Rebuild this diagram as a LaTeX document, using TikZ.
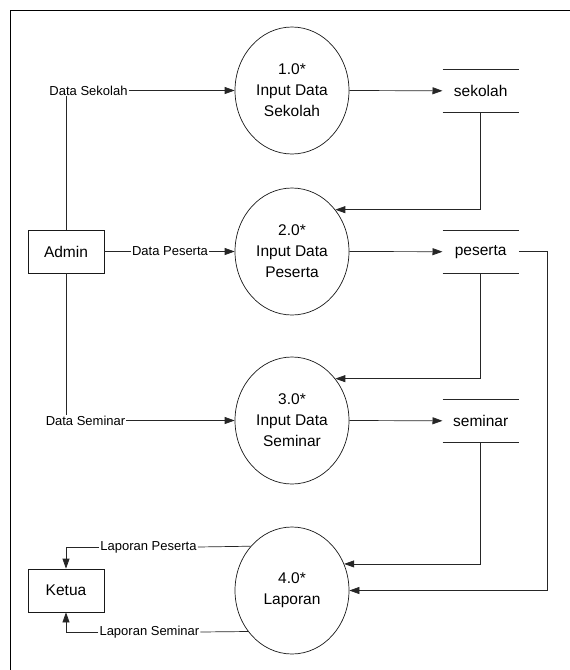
\documentclass[tikz,border=0pt]{standalone}
\usepackage{fontspec}
\setmainfont{Liberation Sans}
\usetikzlibrary{shapes.geometric,arrows.meta}
\begin{document}
\begin{tikzpicture}[x=1pt,y=-1pt,
  proc/.style={draw=black!90,ellipse,minimum width=114pt,minimum height=127pt,inner sep=0pt,align=center,font=\fontsize{15.5}{21}\selectfont,line width=0.7pt},
  ent/.style={draw=black!90,rectangle,minimum width=76pt,minimum height=43pt,inner sep=0pt,font=\fontsize{15.5}{18}\selectfont,line width=0.7pt},
  store/.style={rectangle,minimum width=76pt,minimum height=43pt,inner sep=0pt,font=\fontsize{15.5}{18}\selectfont},
  lbl/.style={inner sep=1pt,font=\fontsize{13}{15}\selectfont},
  flow/.style={draw=black!85,line width=0.7pt},
  arr/.style={flow,-{Triangle[length=10pt,width=7pt]}}
]
\useasboundingbox (0,0) rectangle (570,670);
\draw[black,line width=0.9pt] (10,670) -- (10,10) -- (570,10);

% processes
\node[proc] (p1) at (292,90.5) {1.0*\\Input Data\\Sekolah};
\node[proc] (p2) at (292,251.5) {2.0*\\Input Data\\Peserta};
\node[proc] (p3) at (292,420.5) {3.0*\\Input Data\\Seminar};
\node[proc] (p4) at (292,590.5) {4.0*\\Laporan};

% entities
\node[ent] (admin) at (66,251.5) {Admin};
\node[ent] (ketua) at (66,590.5) {Ketua};

% data stores
\node[store] (s1) at (480.7,90.8) {sekolah};
\node[store] (s2) at (480.7,251.7) {peserta};
\node[store] (s3) at (480.7,420.8) {seminar};
\foreach \s in {s1,s2,s3}{
  \draw[flow] (\s.north west) -- (\s.north east);
  \draw[flow] (\s.south west) -- (\s.south east);
}

% labels
\node[lbl] (ds) at (88.5,90.5) {Data Sekolah};
\node[lbl] (dp) at (170,251.5) {Data Peserta};
\node[lbl] (dsem) at (85.5,420.5) {Data Seminar};
\node[lbl] (lp) at (148.5,547) {Laporan Peserta};
\node[lbl] (lsem) at (149.4,632) {Laporan Seminar};

% admin flows
\draw[flow] (admin.north) -- (admin.north |- ds.south);
\draw[arr] (ds.east) -- (p1.west);
\draw[flow] (admin.east) -- (dp.west);
\draw[arr] (dp.east) -- (p2.west);
\draw[flow] (admin.south) -- (admin.south |- dsem.north);
\draw[arr] (dsem.east) -- (p3.west);

% process to store
\draw[arr] (p1.east) -- (s1.west);
\draw[arr] (p2.east) -- (s2.west);
\draw[arr] (p3.east) -- (s3.west);

% store to process
\draw[arr] (s1.south) |- (p2.44.7);
\draw[arr] (s2.south) |- (p3.44);
\draw[arr] (s3.south) |- (p4.27.8);
\draw[arr] (s2.east) -- ++(28,0) |- (p4.east);

% reports
\draw[flow] (p4.133.7) -- (lp.east);
\draw[arr] (lp.west) -| (ketua.north);
\draw[flow] (p4.223.9) -- (lsem.east);
\draw[arr] (lsem.west) -| (ketua.south);
\end{tikzpicture}
\end{document}
